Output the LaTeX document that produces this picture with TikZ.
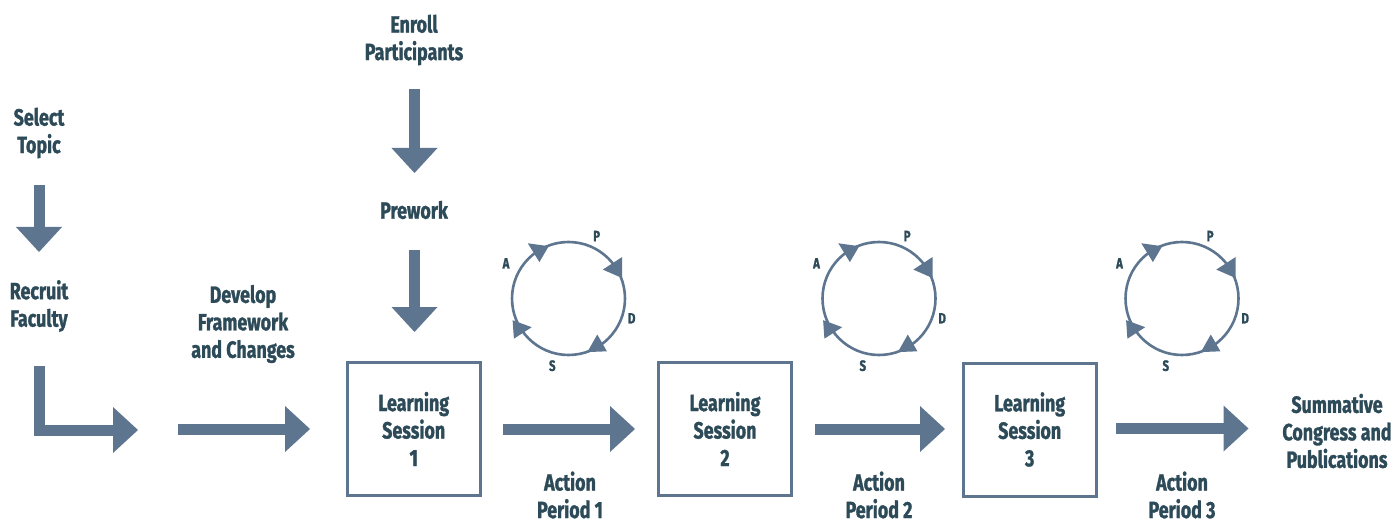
\documentclass[tikz,border=0pt]{standalone}
\usepackage{fontspec}
\newfontfamily\lab{Fira Sans}[FakeStretch=0.76, BoldFeatures={FakeBold=1.2}]
\usetikzlibrary{arrows.meta}
\definecolor{arr}{RGB}{94,117,144}
\definecolor{txt}{RGB}{44,74,88}
\tikzset{
 lbl/.style={font=\lab\bfseries\fontsize{23.5}{27.5}\selectfont, text=txt, align=center, inner sep=0pt},
 pdsalbl/.style={font=\lab\bfseries\fontsize{15}{17}\selectfont, text=txt, inner sep=0pt},
 sessbox/.style={draw=arr, line width=3pt, minimum width=133pt, minimum height=133pt, inner sep=0pt, lbl},
 bigarrow/.style={draw=arr, line width=11pt, line join=miter, -{Triangle[length=25pt,width=46pt,line width=0pt]}},
 ring/.style={draw=arr, line width=2.6pt},
 ringtip/.style={fill=arr}
}
\newcommand\pdsacycle[3]{%
  \begin{scope}[shift={(#2,#3)}]
   \draw[ring] (0,0) circle[radius=56.5pt];
   \fill[ringtip] (-40.7,-55.2) -- (-19.8,-52.3) -- (-29.1,-36.4) -- cycle;
   \fill[ringtip] (53.5,-41.4) -- (34.3,-28.9) -- (53.5,-20.5) -- cycle;
   \fill[ringtip] (18.8,53.6) -- (38.4,52.8) -- (28.8,36.0) -- cycle;
   \fill[ringtip] (-55.9,21.7) -- (-36.8,28.7) -- (-54.6,40.2) -- cycle;
   \node[pdsalbl] (#1P) at (28.2,-62.5) {P};
   \node[pdsalbl] (#1A) at (-62.5,-35.2) {A};
   \node[pdsalbl] (#1D) at (63.2,19.8) {D};
   \node[pdsalbl] (#1S) at (-16.2,67.2) {S};
  \end{scope}}
\begin{document}
\begin{tikzpicture}[x=1pt,y=-1pt]
\fill[white] (0,0) rectangle (1391,521);
\useasboundingbox (0,0) rectangle (1391,521);
% text nodes
\node[lbl] (select) at (39,133) {Select\\Topic};
\node[lbl] (recruit) at (39,306) {Recruit\\Faculty};
\node[lbl] (enroll) at (414,40) {Enroll\\Participants};
\node[lbl] (prework) at (414,210) {Prework};
\node[lbl] (develop) at (243,324) {Develop\\Framework\\and Changes};
\node[sessbox] (box1) at (413.7,429) {Learning\\Session\\1};
\node[sessbox] (box2) at (725,429) {Learning\\Session\\2};
\node[sessbox] (box3) at (1029.7,429.5) {Learning\\Session\\3};
\node[lbl] (act1) at (570,495) {Action\\Period 1};
\node[lbl] (act2) at (879,495) {Action\\Period 2};
\node[lbl] (act3) at (1182,495) {Action\\Period 3};
\node[lbl] (summ) at (1337,431) {Summative\\Congress and\\Publications};
% PDSA cycles
\pdsacycle{c1}{568.5}{298.5}
\pdsacycle{c2}{879}{298.5}
\pdsacycle{c3}{1182}{298.5}
% arrow end points
\coordinate (s1) at (39,185);   \coordinate (s2) at (39,252);
\coordinate (r1) at (39,366);   \coordinate (r2) at (138,430);
\coordinate (e1) at (414.5,89); \coordinate (e2) at (414.5,173);
\coordinate (p1) at (414.5,250);\coordinate (p2) at (414.5,332);
\coordinate (d1) at (178,429);  \coordinate (d2) at (310,429);
\coordinate (a1) at (503,429);  \coordinate (a2) at (635,429);
\coordinate (b1) at (815,429);  \coordinate (b2) at (945,429);
\coordinate (c1s) at (1116,428.5); \coordinate (c2s) at (1248.5,428.5);
% connectors
\draw[bigarrow] (s1) -- (s2);
\draw[bigarrow] (r1) |- (r2);
\draw[bigarrow] (e1) -- (e2);
\draw[bigarrow] (p1) -- (p2);
\draw[bigarrow] (d1) -- (d2);
\draw[bigarrow] (a1) -- (a2);
\draw[bigarrow] (b1) -- (b2);
\draw[bigarrow] (c1s) -- (c2s);
\end{tikzpicture}
\end{document}
